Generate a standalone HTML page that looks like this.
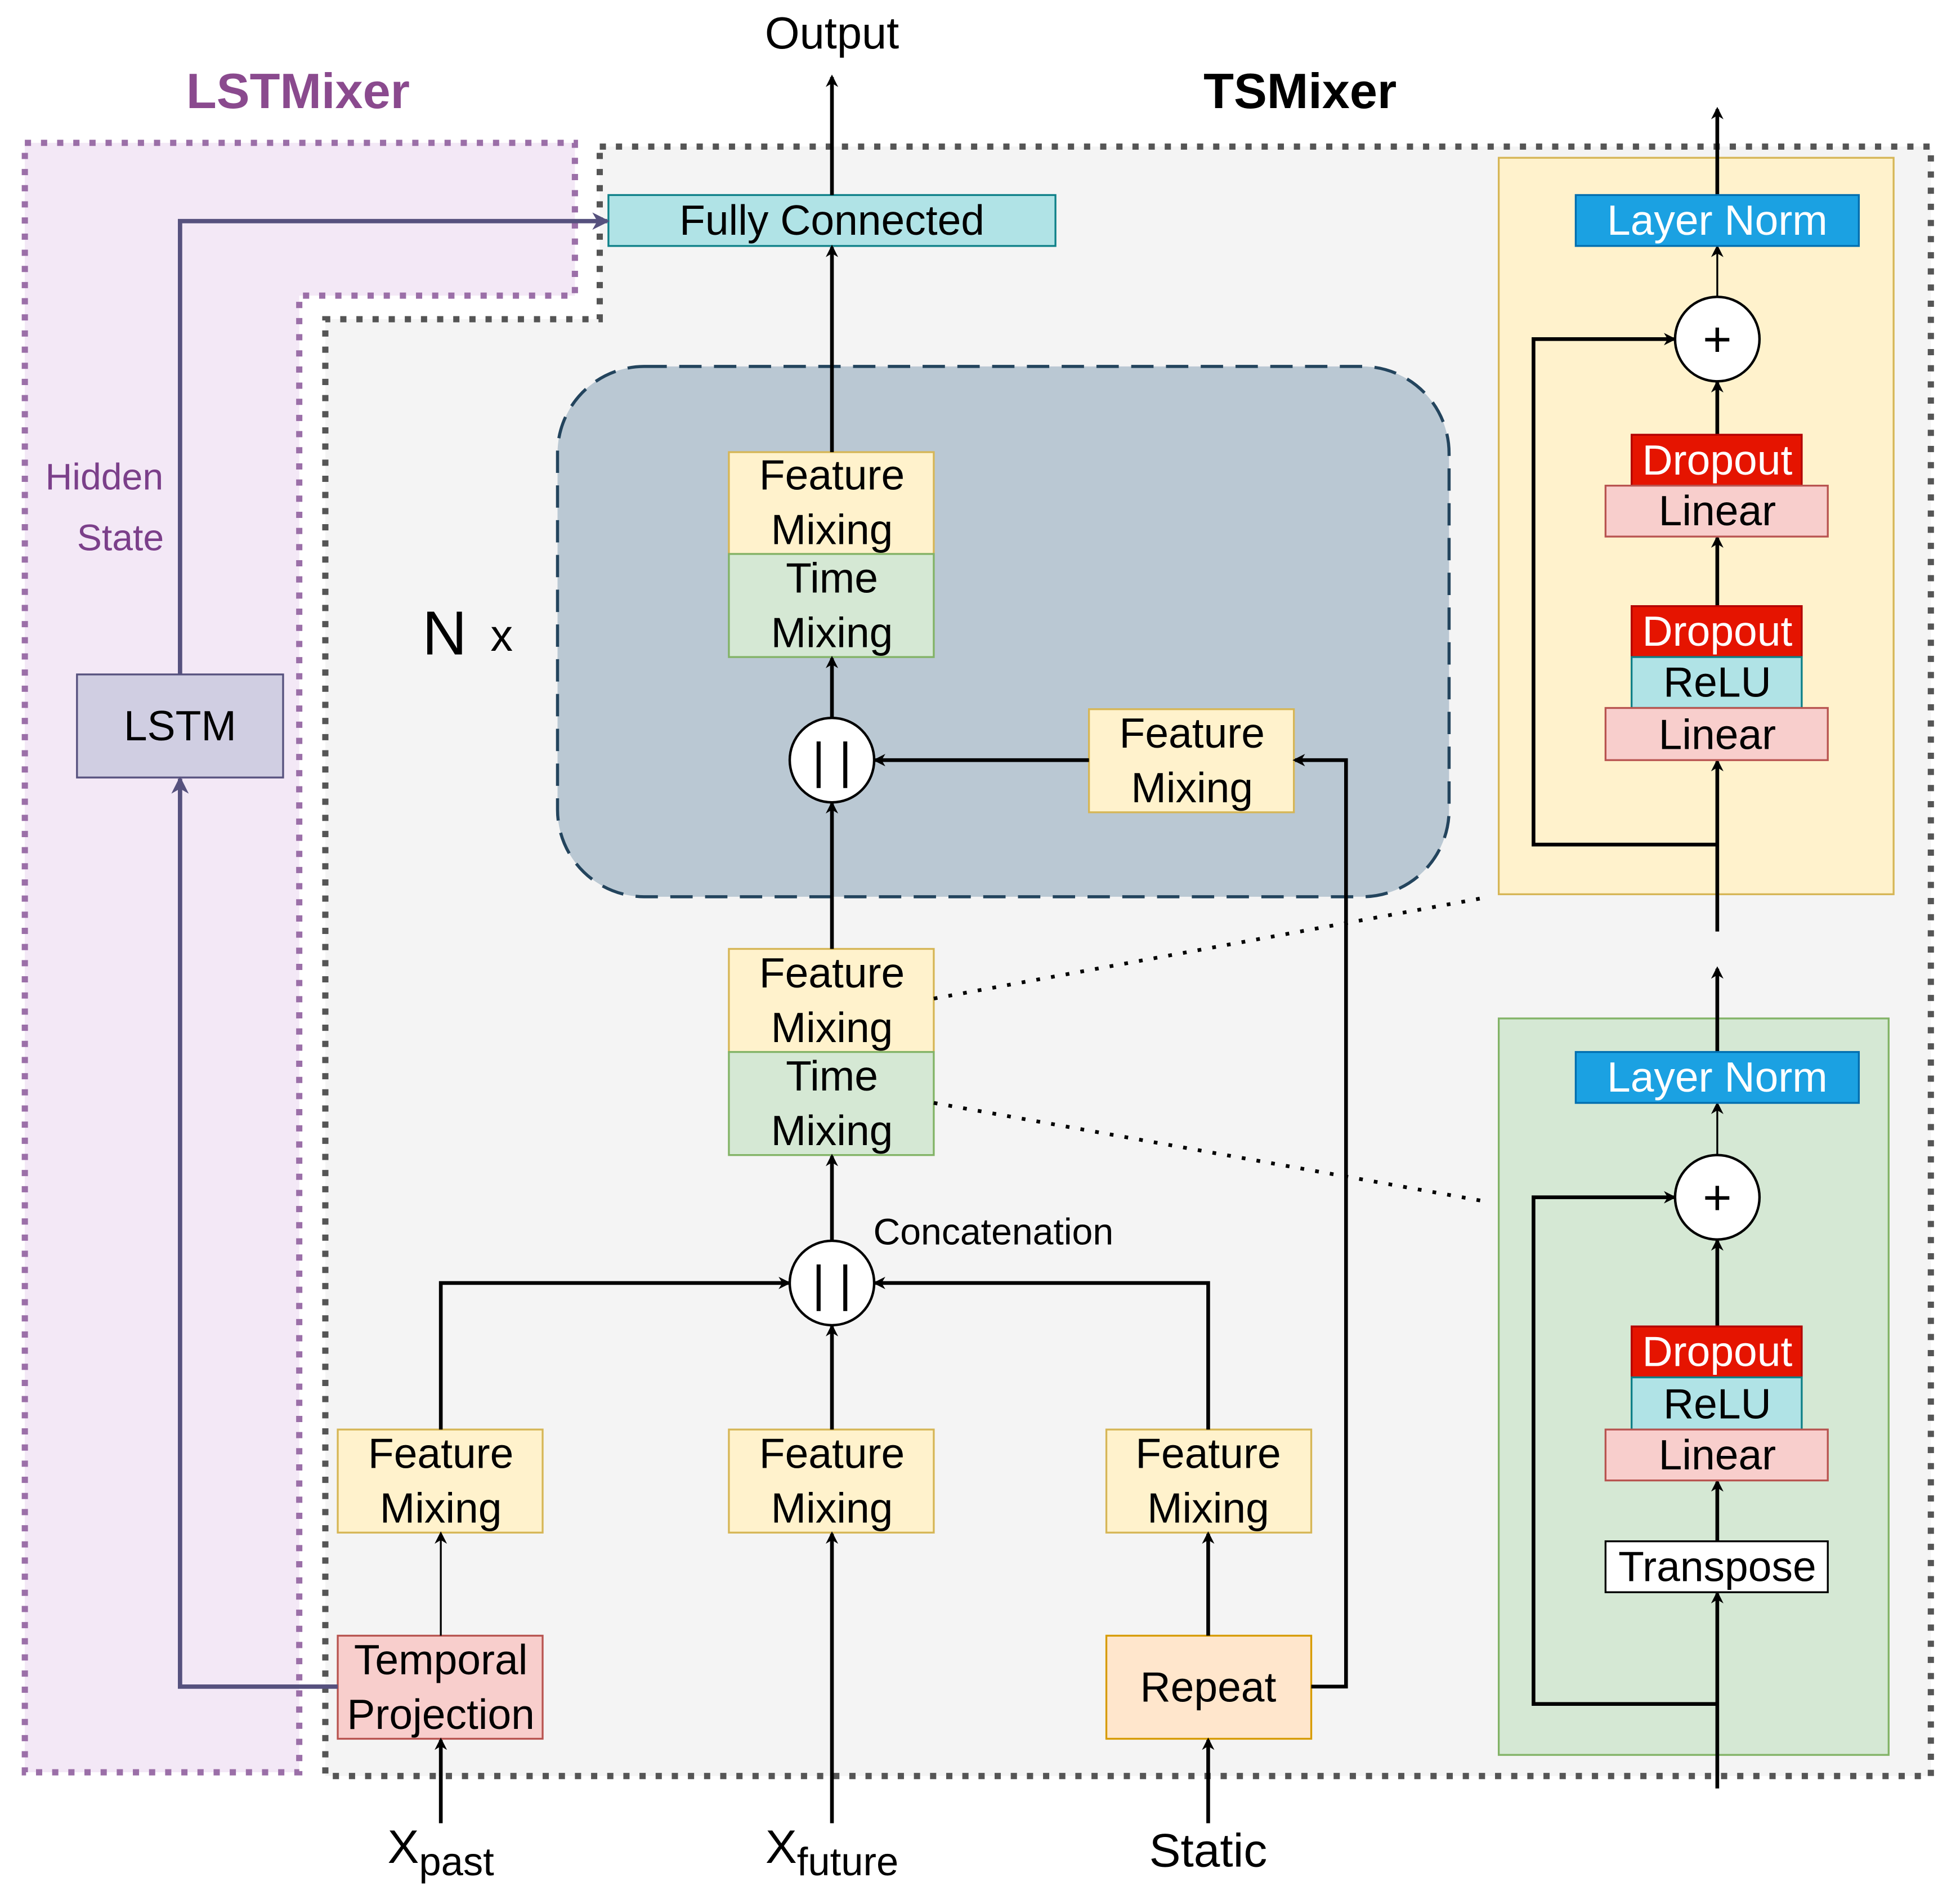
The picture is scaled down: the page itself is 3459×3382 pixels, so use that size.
<!DOCTYPE html>
<html><head><meta charset="utf-8"><style>
html,body{margin:0;padding:0;background:#fff;}
svg{display:block;}
text{font-family:"Liberation Sans",sans-serif;}
</style></head><body>
<svg width="3459" height="3382" viewBox="0 0 1568 1533" xmlns="http://www.w3.org/2000/svg">
<defs>
<marker id="a" markerWidth="10" markerHeight="10" refX="8" refY="5" orient="auto" markerUnits="userSpaceOnUse"><path d="M0,0 L10,5 L0,10 L3,5 z" fill="#000"/></marker>
<marker id="p" markerWidth="14" markerHeight="14" refX="12" refY="7" orient="auto" markerUnits="userSpaceOnUse"><path d="M0,0 L14,7 L0,14 L4,7 z" fill="#56517e"/></marker>
</defs>
<rect width="1568" height="1533" fill="#fff"/>
<polygon points="483,118 1555,118 1555,1430 262,1430 262,257 483,257" fill="#f4f4f4" stroke="#555" stroke-width="5" stroke-dasharray="5,8"/>
<polygon points="20,115 463,115 463,238 241,238 241,1427 20,1427" fill="#f3e8f6" stroke="#9b6fa8" stroke-width="5" stroke-dasharray="5,8"/>
<text x="240" y="87" font-size="40" font-weight="bold" fill="#8a4a8e" text-anchor="middle">LSTMixer</text>
<text x="1047" y="87" font-size="40" font-weight="bold" fill="#000" text-anchor="middle">TSMixer</text>
<text x="670" y="39" font-size="36" text-anchor="middle">Output</text>
<text x="84" y="394" font-size="30" fill="#7b3f8a" text-anchor="middle">Hidden</text>
<text x="97" y="443" font-size="30" fill="#7b3f8a" text-anchor="middle">State</text>

<rect x="449" y="295" width="718" height="427" rx="70" fill="#bac8d3" stroke="#23445d" stroke-width="2.5" stroke-dasharray="18,10"/>
<text x="340" y="527" font-size="50">N</text><text x="395" y="524" font-size="36">x</text>

<g font-size="34" text-anchor="middle">
<rect x="490" y="157" width="360" height="41" fill="#b0e3e6" stroke="#0e8088" stroke-width="1.5"/>
<text x="670" y="189">Fully Connected</text>
<rect x="587" y="364" width="165" height="82" fill="#fff2cc" stroke="#d6b656" stroke-width="1.5"/>
<text x="670" y="394">Feature</text><text x="670" y="438">Mixing</text>
<rect x="587" y="446" width="165" height="83" fill="#d5e8d4" stroke="#82b366" stroke-width="1.5"/>
<text x="670" y="477">Time</text><text x="670" y="521">Mixing</text>
<rect x="877" y="571" width="165" height="83" fill="#fff2cc" stroke="#d6b656" stroke-width="1.5"/>
<text x="960" y="602">Feature</text><text x="960" y="646">Mixing</text>
<rect x="587" y="764" width="165" height="83" fill="#fff2cc" stroke="#d6b656" stroke-width="1.5"/>
<text x="670" y="795">Feature</text><text x="670" y="839">Mixing</text>
<rect x="587" y="847" width="165" height="83" fill="#d5e8d4" stroke="#82b366" stroke-width="1.5"/>
<text x="670" y="878">Time</text><text x="670" y="922">Mixing</text>
<rect x="272" y="1151" width="165" height="83" fill="#fff2cc" stroke="#d6b656" stroke-width="1.5"/>
<text x="355" y="1182">Feature</text><text x="355" y="1226">Mixing</text>
<rect x="587" y="1151" width="165" height="83" fill="#fff2cc" stroke="#d6b656" stroke-width="1.5"/>
<text x="670" y="1182">Feature</text><text x="670" y="1226">Mixing</text>
<rect x="891" y="1151" width="165" height="83" fill="#fff2cc" stroke="#d6b656" stroke-width="1.5"/>
<text x="973" y="1182">Feature</text><text x="973" y="1226">Mixing</text>
<rect x="272" y="1317" width="165" height="83" fill="#f8cecc" stroke="#b85450" stroke-width="1.5"/>
<text x="355" y="1348">Temporal</text><text x="355" y="1392">Projection</text>
<rect x="891" y="1317" width="165" height="83" fill="#ffe6cc" stroke="#d79b00" stroke-width="1.5"/>
<text x="973" y="1370">Repeat</text>
<rect x="62" y="543" width="166" height="83" fill="#d0cee2" stroke="#56517e" stroke-width="1.5"/>
<text x="145" y="596">LSTM</text>
<text x="355" y="1500" font-size="38">X<tspan font-size="32" dy="10">past</tspan></text>
<text x="670" y="1500" font-size="38">X<tspan font-size="32" dy="10">future</tspan></text>
<text x="973" y="1503" font-size="38">Static</text>
</g>
<text x="800" y="1002" font-size="30" text-anchor="middle">Concatenation</text>

<g stroke="#000" stroke-width="3" fill="none" marker-end="url(#a)">
<line x1="670" y1="157" x2="670" y2="62"/>
<line x1="670" y1="364" x2="670" y2="199"/>
<line x1="670" y1="578" x2="670" y2="530"/>
<line x1="877" y1="612" x2="705" y2="612"/>
<line x1="670" y1="764" x2="670" y2="647"/>
<line x1="670" y1="999" x2="670" y2="931"/>
<polyline points="355,1151 355,1033 635,1033"/>
<line x1="670" y1="1151" x2="670" y2="1068"/>
<polyline points="973,1151 973,1033 705,1033"/>
<line x1="355" y1="1317" x2="355" y2="1235" stroke-width="1.5"/>
<line x1="355" y1="1468" x2="355" y2="1401"/>
<line x1="670" y1="1468" x2="670" y2="1235"/>
<line x1="973" y1="1317" x2="973" y2="1235"/>
<line x1="973" y1="1468" x2="973" y2="1401"/>
<polyline points="1056,1358 1084,1358 1084,612 1043,612"/>
</g>
<g stroke="#56517e" stroke-width="3.5" fill="none" marker-end="url(#p)">
<polyline points="272,1358 145,1358 145,627"/>
<polyline points="145,543 145,178 489,178"/>
</g>
<g stroke="#000" stroke-width="3" stroke-dasharray="3,9">
<line x1="752" y1="804" x2="1200" y2="722"/>
<line x1="752" y1="888" x2="1200" y2="968"/>
</g>

<rect x="1207" y="127" width="318" height="593" fill="#fff2cc" stroke="#d6b656" stroke-width="1.5"/>
<rect x="1207" y="820" width="314" height="593" fill="#d5e8d4" stroke="#82b366" stroke-width="1.5"/>

<g stroke="#000" stroke-width="3" fill="none" marker-end="url(#a)">
<line x1="1383" y1="750" x2="1383" y2="613"/>
<line x1="1383" y1="488" x2="1383" y2="433"/>
<line x1="1383" y1="350" x2="1383" y2="308"/>
<line x1="1383" y1="239" x2="1383" y2="199" stroke-width="1.5"/>
<line x1="1383" y1="157" x2="1383" y2="88"/>
<polyline points="1383,680 1235,680 1235,273 1348,273"/>
<line x1="1383" y1="1440" x2="1383" y2="1283"/>
<line x1="1383" y1="1241" x2="1383" y2="1193"/>
<line x1="1383" y1="1068" x2="1383" y2="999"/>
<line x1="1383" y1="930" x2="1383" y2="889" stroke-width="1.5"/>
<line x1="1383" y1="847" x2="1383" y2="780"/>
<polyline points="1383,1372 1235,1372 1235,964 1348,964"/>
</g>

<g stroke="#000" stroke-width="2" fill="#fff">
<circle cx="670" cy="612" r="34"/><circle cx="670" cy="1033" r="34"/>
<circle cx="1383" cy="273" r="34"/><circle cx="1383" cy="964" r="34"/>
</g>
<g font-size="40" text-anchor="middle">
<text x="670" y="626">| |</text><text x="670" y="1047">| |</text>
<text x="1383" y="287">+</text><text x="1383" y="978">+</text>
</g>

<g font-size="34" text-anchor="middle">
<rect x="1269" y="157" width="228" height="41" fill="#1ba1e2" stroke="#006eaf" stroke-width="1.5"/>
<text x="1383" y="189" fill="#fff">Layer Norm</text>
<rect x="1314" y="350" width="137" height="41" fill="#e51400" stroke="#b20000" stroke-width="1.5"/>
<text x="1383" y="382" fill="#fff">Dropout</text>
<rect x="1293" y="391" width="179" height="41" fill="#f8cecc" stroke="#b85450" stroke-width="1.5"/>
<text x="1383" y="423">Linear</text>
<rect x="1314" y="488" width="137" height="41" fill="#e51400" stroke="#b20000" stroke-width="1.5"/>
<text x="1383" y="520" fill="#fff">Dropout</text>
<rect x="1314" y="529" width="137" height="41" fill="#b0e3e6" stroke="#0e8088" stroke-width="1.5"/>
<text x="1383" y="561">ReLU</text>
<rect x="1293" y="570" width="179" height="42" fill="#f8cecc" stroke="#b85450" stroke-width="1.5"/>
<text x="1383" y="603">Linear</text>

<rect x="1269" y="847" width="228" height="41" fill="#1ba1e2" stroke="#006eaf" stroke-width="1.5"/>
<text x="1383" y="879" fill="#fff">Layer Norm</text>
<rect x="1314" y="1068" width="137" height="41" fill="#e51400" stroke="#b20000" stroke-width="1.5"/>
<text x="1383" y="1100" fill="#fff">Dropout</text>
<rect x="1314" y="1109" width="137" height="42" fill="#b0e3e6" stroke="#0e8088" stroke-width="1.5"/>
<text x="1383" y="1142">ReLU</text>
<rect x="1293" y="1151" width="179" height="41" fill="#f8cecc" stroke="#b85450" stroke-width="1.5"/>
<text x="1383" y="1183">Linear</text>
<rect x="1293" y="1241" width="179" height="41" fill="#fff" stroke="#000" stroke-width="1.5"/>
<text x="1383" y="1273">Transpose</text>
</g>
</svg>
</body></html>
